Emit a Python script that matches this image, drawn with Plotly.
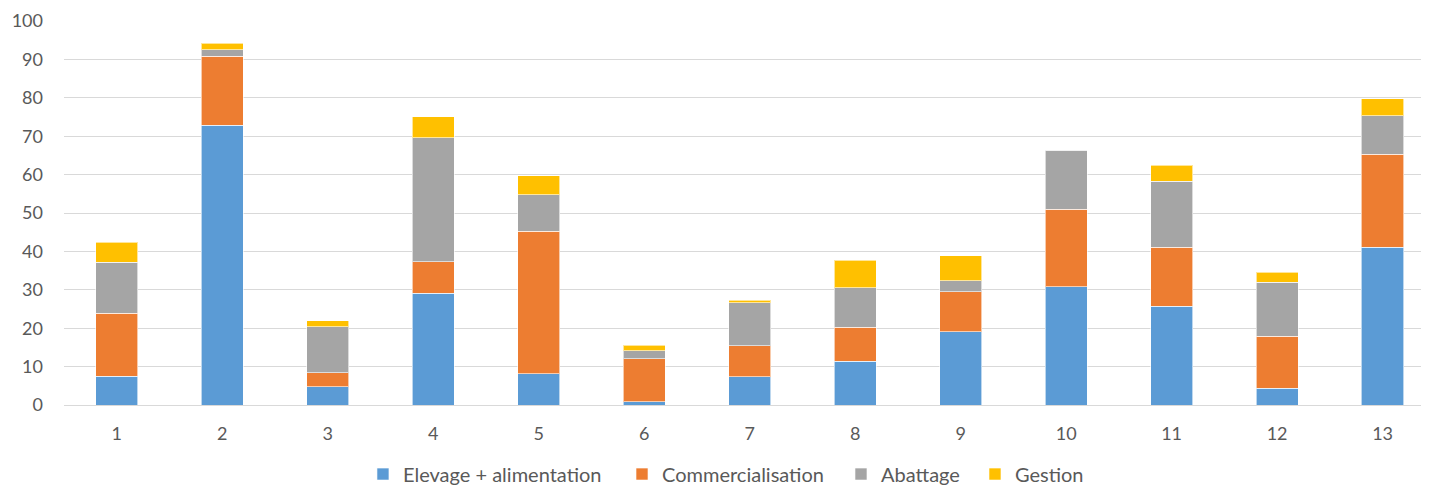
import plotly.graph_objects as go

# values
categories = [str(i) for i in range(1, 14)]
elevage = [7.5, 72.9, 4.7, 29.1, 8.2, 0.9, 7.4, 11.4, 19.1, 30.8, 25.7, 4.4, 41.1]
commercialisation = [16.4, 17.9, 3.7, 8.2, 37.0, 11.1, 8.0, 8.8, 10.4, 20.2, 15.4, 13.5, 24.2]
abattage = [13.3, 1.7, 12.0, 32.3, 9.6, 2.1, 11.2, 10.4, 2.8, 15.3, 17.2, 14.1, 10.0]
gestion = [5.2, 1.7, 1.6, 5.5, 4.9, 1.4, 0.7, 7.1, 6.6, 0.0, 4.1, 2.6, 4.4]
y_ticks = list(range(0, 101, 10))

SERIES = [
    ("Elevage + alimentation", elevage, "#5B9BD5"),
    ("Commercialisation", commercialisation, "#ED7D31"),
    ("Abattage", abattage, "#A5A5A5"),
    ("Gestion", gestion, "#FFC000"),
]
# one legend per series so the entries can be spaced like the original
LEGEND_X = [0.2498, 0.4321, 0.5862, 0.6805]

fig = go.Figure()
legends = {}
for i, (name, vals, colour) in enumerate(SERIES):
    key = "legend" if i == 0 else f"legend{i + 1}"
    fig.add_trace(go.Bar(
        name=name, x=categories, y=vals, legend=key, showlegend=True,
        marker=dict(color=colour, line=dict(color="rgba(255,255,255,0.6)", width=1)),
    ))
    legends[key] = dict(orientation="h", xref="container", yref="container",
                        x=LEGEND_X[i], xanchor="left", y=0.025, yanchor="middle",
                        font=dict(size=20), itemwidth=30, bgcolor="rgba(0,0,0,0)")

# page body has an 8px margin, so the figure is sized to fit inside the window
fig.update_layout(
    width=1421, height=478, showlegend=True,
    barmode="stack", bargap=0.6,
    paper_bgcolor="white", plot_bgcolor="white",
    font=dict(family="Lato, Open Sans, sans-serif", color="#595959", size=18),
    margin=dict(l=56, r=0, t=13, b=81),
    xaxis=dict(type="category", range=[-0.5, 12.44], showgrid=False,
               showline=True, linecolor="#D9D9D9", linewidth=1, ticks="",
               ticklabelstandoff=12),
    yaxis=dict(range=[0, 100], tickvals=y_ticks, showgrid=True, gridcolor="#D9D9D9",
               gridwidth=1, zeroline=False, showline=False, ticks="",
               ticklabelstandoff=20),
    **legends,
)

fig.write_html("out.html")
